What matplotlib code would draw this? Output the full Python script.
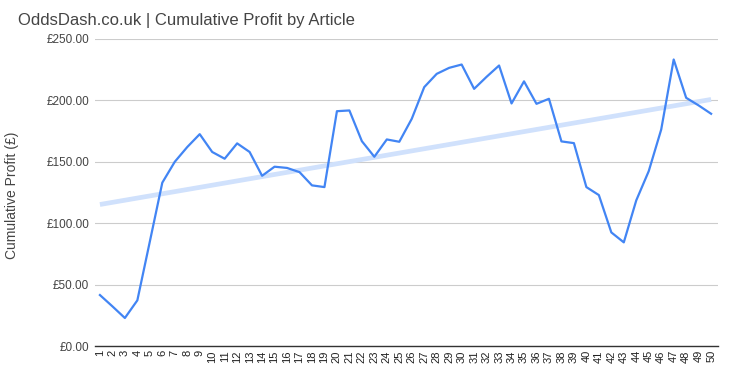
import matplotlib.pyplot as plt
import numpy as np

plt.rcParams['font.family'] = ['Liberation Sans', 'DejaVu Sans']

# Cumulative profit per article
articles = list(range(1, 51))
profit = [41.5, 32.3, 22.8, 37.2, 85.0, 133.0, 150.0, 162.0, 172.5, 158.0,
          152.5, 165.0, 158.0, 138.6, 146.0, 145.0, 141.6, 130.8, 129.4, 191.2,
          191.8, 166.8, 154.1, 168.2, 166.3, 185.0, 210.8, 221.6, 226.5, 229.2,
          209.4, 219.2, 228.4, 197.5, 215.5, 197.2, 201.3, 166.6, 165.2, 129.4,
          122.9, 92.5, 84.4, 118.6, 142.4, 176.3, 233.3, 202.1, 195.9, 189.1]
yticks = [0, 50, 100, 150, 200, 250]

fig = plt.figure(figsize=(7.36, 3.77), dpi=100)
ax = fig.add_axes([0.129, 0.0822, 0.8465, 0.8144])

# Linear trendline
x = np.array(articles)
slope, icpt = np.polyfit(x, profit, 1)
ax.plot(x, slope * x + icpt, color='#d0e1fc', linewidth=3.4, solid_capstyle='butt', zorder=2)

ax.plot(articles, profit, color='#4285f4', linewidth=1.6, zorder=3)

ax.set_xlim(0.6, 50.55)
ax.set_ylim(0, 250)
ax.set_yticks(yticks)
ax.set_yticklabels([f'£{v:.2f}' for v in yticks], fontsize=8.5, color='#444444')
ax.set_xticks(articles)
ax.set_xticklabels([str(a) for a in articles], rotation=90, fontsize=8, color='#222222')
ax.tick_params(axis='both', length=0, pad=4)
ax.tick_params(axis='x', pad=3)

ax.grid(axis='y', color='#cccccc', linewidth=0.8)
ax.set_axisbelow(True)
for s in ['top', 'right', 'left']:
    ax.spines[s].set_visible(False)
ax.spines['bottom'].set_color('#333333')
ax.spines['bottom'].set_linewidth(1)

ax.set_ylabel('Cumulative Profit (£)', fontsize=10, color='#444444')
ax.yaxis.set_label_coords(-0.122, 0.49)
fig.text(18 / 736, 1 - 20 / 377, 'OddsDash.co.uk | Cumulative Profit by Article',
         fontsize=12, color='#444444', va='center', ha='left')

fig.savefig('out.png', dpi=100)
